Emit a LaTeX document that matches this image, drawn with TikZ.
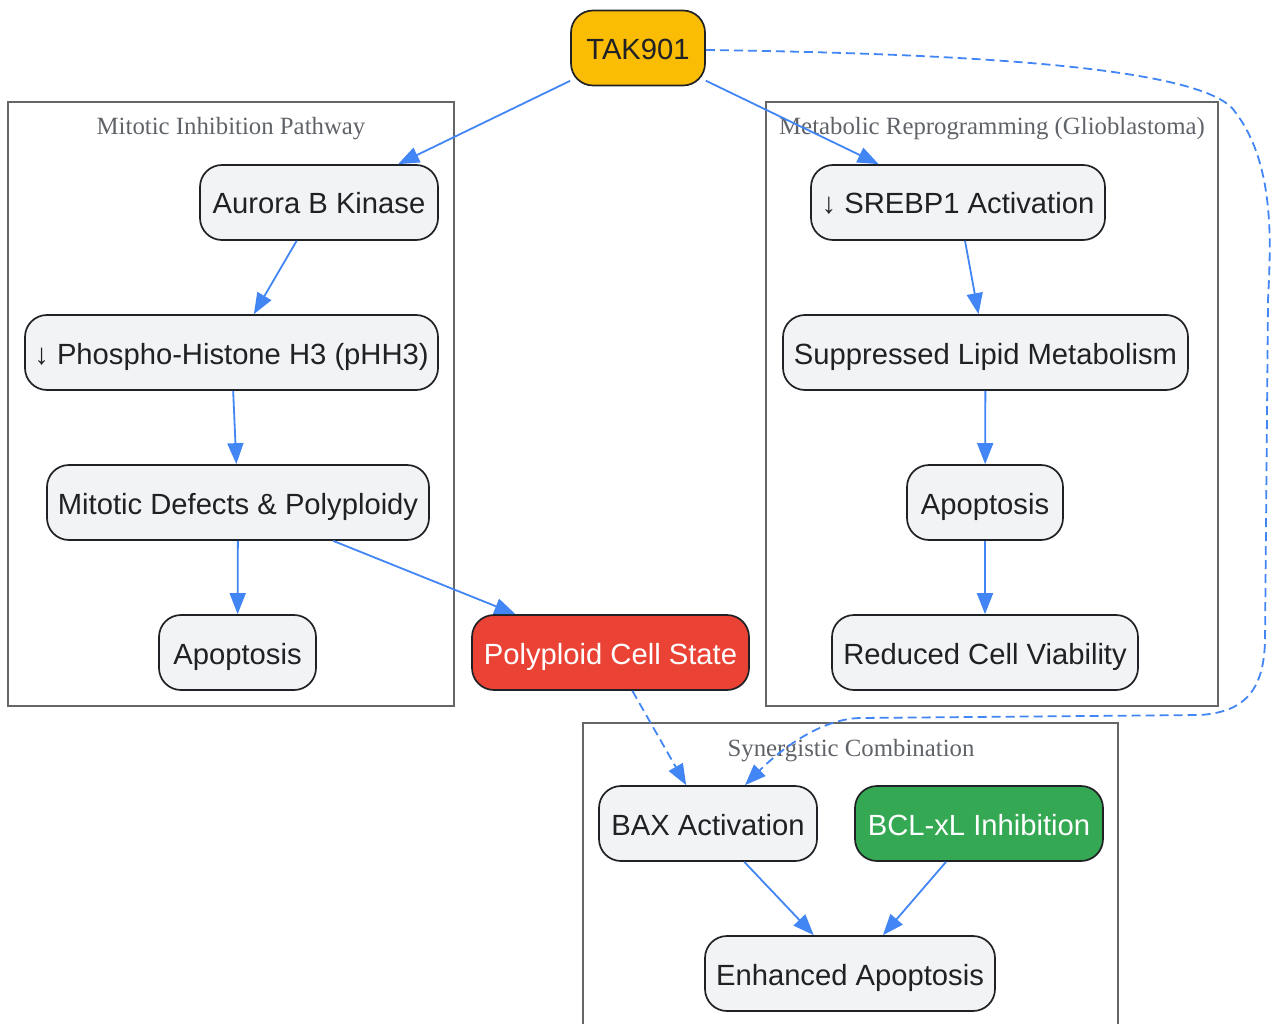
\documentclass[tikz,border=0pt]{standalone}
\usepackage{fontspec}
\setmainfont{Liberation Sans}
\newfontfamily\clusterfont{Liberation Serif}
\usetikzlibrary{arrows.meta}
\definecolor{edgeblue}{HTML}{4285F4}
\definecolor{nodefill}{HTML}{F1F3F4}
\definecolor{nodeborder}{HTML}{202124}
\definecolor{takyellow}{HTML}{FBBC04}
\definecolor{polyred}{HTML}{EA4335}
\definecolor{bclgreen}{HTML}{34A853}
\definecolor{clustergray}{HTML}{666666}
\definecolor{labelgray}{HTML}{5F6368}
\begin{document}
\begin{tikzpicture}[x=1pt,y=-1pt,
  box/.style={draw=nodeborder, line width=1.7pt, rounded corners=22pt, fill=nodefill, text=nodeborder,
    font=\fontsize{29.2}{34}\selectfont, minimum height=75pt, inner sep=0pt,
    text height=23pt, text depth=0pt},
  cluster/.style={draw=clustergray, line width=1.8pt},
  clabel/.style={text=labelgray, font=\clusterfont\fontsize{24.8}{30}\selectfont, anchor=base, inner sep=0pt},
  edge/.style={draw=edgeblue, line width=1.8pt, -{Triangle[length=21pt,width=16pt]}},
  dashedge/.style={edge, dash pattern=on 9pt off 5pt}
]
\useasboundingbox (0,0) rectangle (1273,1024);

% clusters
\draw[cluster] (8,102) rectangle (454,706);
\node[clabel] (lbl1) at (231,135) {Mitotic Inhibition Pathway};
\draw[cluster] (766,102) rectangle (1218,706);
\node[clabel] (lbl2) at (992,135) {Metabolic Reprogramming (Glioblastoma)};
\draw[cluster] (583,1030) -- (583,723) -- (1118,723) -- (1118,1030);
\node[clabel] (lbl3) at (851,756) {Synergistic Combination};

% nodes
\node[box, minimum width=134pt, fill=takyellow] (tak) at (638,48) {TAK901};
\node[box, minimum width=238pt] (aurora) at (319,202.5) {Aurora B Kinase};
\node[box, minimum width=413pt] (phh3) at (231.5,352.5) {↓ Phospho-Histone H3 (pHH3)};
\node[box, minimum width=382pt] (mitdef) at (238,502.5) {Mitotic Defects \& Polyploidy};
\node[box, minimum width=157pt] (apo1) at (237.5,652.5) {Apoptosis};
\node[box, minimum width=277pt, fill=polyred, text=white] (poly) at (610.5,652.5) {Polyploid Cell State};

\node[box, minimum width=294pt] (srebp) at (958,202.5) {↓ SREBP1 Activation};
\node[box, minimum width=405pt] (lipid) at (985.5,352.5) {Suppressed Lipid Metabolism};
\node[box, minimum width=156pt] (apo2) at (985,502.5) {Apoptosis};
\node[box, minimum width=306pt] (viab) at (985,652.5) {Reduced Cell Viability};

\node[box, minimum width=218pt] (bax) at (708,823.5) {BAX Activation};
\node[box, minimum width=248pt, fill=bclgreen, text=white] (bcl) at (979,823.5) {BCL-xL Inhibition};
\node[box, minimum width=290pt] (enh) at (850,973.5) {Enhanced Apoptosis};

% edges
\draw[edge] (tak) -- (aurora);
\draw[edge] (tak) -- (srebp);
\draw[edge] (aurora) -- (phh3);
\draw[edge] (phh3) -- (mitdef);
\draw[edge] (mitdef) -- (apo1);
\draw[edge] (mitdef) -- (poly);
\draw[edge] (srebp) -- (lipid);
\draw[edge] (lipid) -- (apo2);
\draw[edge] (apo2) -- (viab);
\draw[dashedge] (poly) -- (bax);
\draw[dashedge] ([yshift=-2pt]tak.east) .. controls (1000,54) and (1195,70) .. (1232,108)
  .. controls (1275,160) and (1271,240) .. (1268,300)
  -- (1265,640) .. controls (1264,690) and (1245,712) .. (1200,715)
  -- (860,718) .. controls (820,719) and (780,750) .. ([xshift=37pt]bax.north);
\draw[edge] (bax) -- (enh);
\draw[edge] (bcl) -- (enh);
\end{tikzpicture}
\end{document}
